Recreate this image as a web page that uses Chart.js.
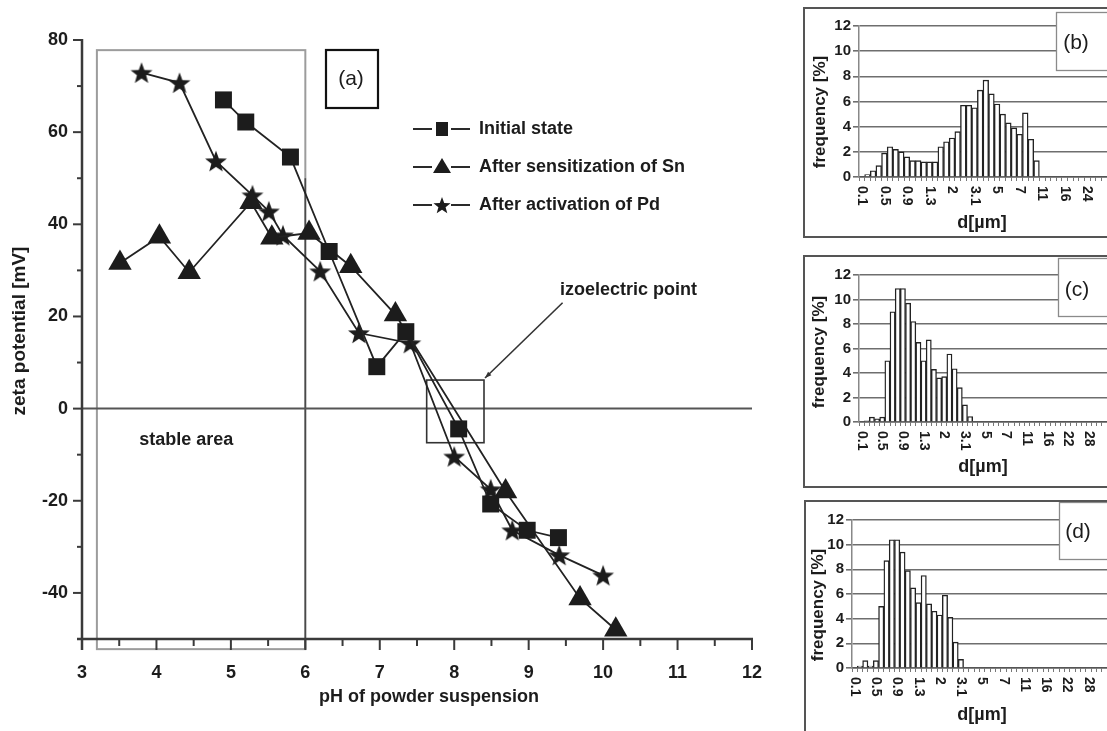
<!DOCTYPE html>
<html><head><meta charset="utf-8">
<script src="https://cdn.jsdelivr.net/npm/chart.js@4.4.1/dist/chart.umd.min.js"></script>
<style>
html,body{margin:0;padding:0;background:#fff;}
body{width:1107px;height:731px;position:relative;overflow:hidden;}
.c{position:absolute;}
.panel{position:absolute;border:2px solid #555;box-sizing:border-box;}
</style></head><body>
<canvas id="main" class="c" style="left:0;top:0;" width="790" height="731"></canvas>
<div class="panel" style="left:803px;top:7px;width:330px;height:231px;"></div>
<div class="panel" style="left:803px;top:255px;width:330px;height:233px;"></div>
<div class="panel" style="left:804px;top:500px;width:330px;height:260px;"></div>
<canvas id="hb" class="c" style="left:805px;top:9px;" width="302" height="228"></canvas>
<canvas id="hc" class="c" style="left:805px;top:257px;" width="302" height="229"></canvas>
<canvas id="hd" class="c" style="left:805px;top:502px;" width="302" height="229"></canvas>
<script>
// ---------- data: main chart (a) ----------
const phInitial   = [4.90, 5.20, 5.80, 6.32, 6.96, 7.35, 8.06, 8.49, 8.98, 9.40];
const zetaInitial = [67.0, 62.2, 54.6, 34.1, 9.1, 16.7, -4.4, -20.7, -26.4, -28.0];
const phSn   = [3.51, 4.04, 4.44, 5.27, 5.55, 6.05, 6.61, 7.21, 8.69, 9.69, 10.17];
const zetaSn = [31.6, 37.3, 29.6, 44.8, 37.1, 38.1, 30.9, 20.4, -18.0, -41.2, -48.0];
const phPd   = [3.80, 4.31, 4.80, 5.29, 5.51, 5.70, 6.20, 6.72, 7.41, 8.00, 8.49, 8.78, 9.41, 10.00];
const zetaPd = [72.9, 70.7, 53.7, 46.3, 42.8, 37.6, 29.8, 16.4, 14.2, -10.4, -17.5, -26.4, -31.8, -36.2];
const seriesNames = ['Initial state', 'After sensitization of Sn', 'After activation of Pd'];
const stablePH = [3.2, 6.0];
const stableZeta = [-52.2, 77.8];
const izoPH = [7.63, 8.40];
const izoZeta = [-7.4, 6.2];

// ---------- data: histograms (b), (c), (d) ----------
const tickLabelsB = ['0.1','0.5','0.9','1.3','2','3.1','5','7','11','16','24'];
const freqB = [0, 0.2,0.5,0.9,1.9,2.4,2.2,2.0,1.6,1.3,1.3,1.2,1.2,1.2,2.4,2.8,3.1,3.6,5.7,5.7,5.5,6.9,7.7,6.6,5.8,5.0,4.3,3.9,3.4,5.1,3.0,1.3];
const tickLabelsC = ['0.1','0.5','0.9','1.3','2','3.1','5','7','11','16','22','28'];
const freqC = [0, 0.1,0.4,0.25,0.4,5.0,9.0,10.9,10.9,9.7,8.2,6.5,5.0,6.7,4.3,3.6,3.7,5.55,4.35,2.8,1.4,0.45];
const tickLabelsD = ['0.1','0.5','0.9','1.3','2','3.1','5','7','11','16','22','28'];
const freqD = [0, 0.15,0.6,0.15,0.6,5.0,8.7,10.4,10.4,9.4,7.9,6.5,5.3,7.5,5.2,4.6,4.3,5.9,4.1,2.1,0.7];

const FONT = '"Liberation Sans", Arial, Helvetica, sans-serif';
const INK = '#1c1c1c';

function starPath(ctx, cx, cy, R) {
  const r = R * 0.42;
  ctx.beginPath();
  for (let i = 0; i < 10; i++) {
    const ang = -Math.PI / 2 + i * Math.PI / 5;
    const rad = i % 2 ? r : R;
    const px = cx + rad * Math.cos(ang), py = cy + rad * Math.sin(ang);
    if (i === 0) ctx.moveTo(px, py); else ctx.lineTo(px, py);
  }
  ctx.closePath();
}
function makeStar(size) {
  const c = document.createElement('canvas');
  c.width = c.height = size;
  const g = c.getContext('2d');
  g.fillStyle = INK;
  const R = size / 2 - 0.5;
  starPath(g, size / 2, size / 2 + R * 0.09, R);
  g.fill();
  return c;
}
const starImg = makeStar(24);

const mainDeco = {
  id: 'mainDeco',
  beforeDatasetsDraw(chart) {
    const { ctx, chartArea: a, scales: { x, y } } = chart;
    const X = v => x.getPixelForValue(v), Y = v => y.getPixelForValue(v);
    ctx.save();
    ctx.strokeStyle = '#9c9c9c'; ctx.lineWidth = 2;
    ctx.strokeRect(X(stablePH[0]), Y(stableZeta[1]), X(stablePH[1]) - X(stablePH[0]), Y(stableZeta[0]) - Y(stableZeta[1]));
    ctx.strokeStyle = '#4a4a4a'; ctx.lineWidth = 1.6;
    ctx.beginPath(); ctx.moveTo(X(stablePH[1]), Y(50)); ctx.lineTo(X(stablePH[1]), Y(stableZeta[0])); ctx.stroke();
    ctx.strokeStyle = '#555'; ctx.lineWidth = 2;
    ctx.beginPath(); ctx.moveTo(a.left, Y(0)); ctx.lineTo(a.right, Y(0)); ctx.stroke();
    ctx.strokeStyle = '#333'; ctx.lineWidth = 1.6;
    ctx.strokeRect(X(izoPH[0]), Y(izoZeta[1]), X(izoPH[1]) - X(izoPH[0]), Y(izoZeta[0]) - Y(izoZeta[1]));
    const x1 = X(9.456), y1 = Y(22.98), x2 = X(izoPH[1]) + 1, y2 = Y(izoZeta[1]) - 2;
    ctx.beginPath(); ctx.moveTo(x1, y1); ctx.lineTo(x2, y2); ctx.stroke();
    const ang = Math.atan2(y2 - y1, x2 - x1);
    ctx.fillStyle = '#333';
    ctx.beginPath();
    ctx.moveTo(x2, y2);
    ctx.lineTo(x2 - 7 * Math.cos(ang - 0.35), y2 - 7 * Math.sin(ang - 0.35));
    ctx.lineTo(x2 - 7 * Math.cos(ang + 0.35), y2 - 7 * Math.sin(ang + 0.35));
    ctx.closePath(); ctx.fill();
    ctx.strokeStyle = '#3a3a3a'; ctx.lineWidth = 2.5;
    ctx.beginPath(); ctx.moveTo(a.left, Y(80) - 1); ctx.lineTo(a.left, a.bottom + 11); ctx.stroke();
    ctx.beginPath(); ctx.moveTo(a.left - 5, a.bottom); ctx.lineTo(a.right + 1, a.bottom); ctx.stroke();
    ctx.lineWidth = 2;
    y.ticks.forEach(t => {
      const major = t.value % 20 === 0;
      const len = major ? 9 : 5, py = Y(t.value);
      ctx.beginPath(); ctx.moveTo(a.left - len, py); ctx.lineTo(a.left, py); ctx.stroke();
    });
    x.ticks.forEach(t => {
      const major = Number.isInteger(t.value);
      const len = major ? 11 : 7, px = X(t.value);
      ctx.beginPath(); ctx.moveTo(px, a.bottom); ctx.lineTo(px, a.bottom + len); ctx.stroke();
    });
    ctx.restore();
  },
  afterDraw(chart) {
    const { ctx, scales: { x, y } } = chart;
    const X = v => x.getPixelForValue(v), Y = v => y.getPixelForValue(v);
    ctx.save();
    ctx.fillStyle = INK;
    ctx.strokeStyle = '#111'; ctx.lineWidth = 2.2;
    ctx.strokeRect(326, 50, 52, 58);
    ctx.font = '21px ' + FONT; ctx.textAlign = 'center'; ctx.textBaseline = 'middle';
    ctx.fillText('(a)', 351, 79);
    const ly = [129, 167, 205];
    ctx.strokeStyle = '#2a2a2a'; ctx.lineWidth = 2;
    ly.forEach((yy, i) => {
      ctx.beginPath(); ctx.moveTo(413, yy); ctx.lineTo(432, yy); ctx.moveTo(451, yy); ctx.lineTo(470, yy); ctx.stroke();
      ctx.fillStyle = INK;
      if (i === 0) ctx.fillRect(436, yy - 7, 12, 14);
      if (i === 1) { ctx.beginPath(); ctx.moveTo(442, yy - 9); ctx.lineTo(451, yy + 6); ctx.lineTo(433, yy + 6); ctx.closePath(); ctx.fill(); }
      if (i === 2) { starPath(ctx, 442, yy + 1, 9); ctx.fill(); }
      ctx.font = 'bold 18px ' + FONT; ctx.textAlign = 'left'; ctx.textBaseline = 'middle';
      ctx.fillText(seriesNames[i], 479, yy);
    });
    ctx.font = 'bold 18px ' + FONT; ctx.textAlign = 'left'; ctx.textBaseline = 'middle';
    ctx.fillText('stable area', X(3.77), Y(-6.8));
    ctx.fillText('izoelectric point', X(9.42), Y(25.8));
    ctx.textAlign = 'center';
    ctx.fillText('pH of powder suspension', 429, 697);
    ctx.save(); ctx.translate(20, 331); ctx.rotate(-Math.PI / 2);
    ctx.font = 'bold 19px ' + FONT; ctx.fillText('zeta potential [mV]', 0, 0); ctx.restore();
    ctx.restore();
  }
};

function xy(xs, ys) { return xs.map((v, i) => ({ x: v, y: ys[i] })); }
const lineCommon = { showLine: true, borderColor: '#222', borderWidth: 1.8, clip: false, pointBorderWidth: 0, pointBackgroundColor: INK, pointBorderColor: INK };

new Chart(document.getElementById('main'), {
  type: 'scatter',
  data: {
    datasets: [
      Object.assign({ label: seriesNames[0], data: xy(phInitial, zetaInitial), pointStyle: 'rect', pointRadius: 12, pointHoverRadius: 12 }, lineCommon),
      Object.assign({ label: seriesNames[1], data: xy(phSn, zetaSn), pointStyle: 'triangle', pointRadius: 13.5, pointHoverRadius: 13.5 }, lineCommon),
      Object.assign({ label: seriesNames[2], data: xy(phPd, zetaPd), pointStyle: starImg, pointRadius: 12 }, lineCommon)
    ]
  },
  options: {
    responsive: false, animation: false,
    layout: { padding: { top: 40, right: 38, left: 0, bottom: 0 } },
    plugins: { legend: { display: false }, tooltip: { enabled: false } },
    scales: {
      x: {
        type: 'linear', min: 3, max: 12,
        ticks: { stepSize: 0.5, autoSkip: false, maxRotation: 0, padding: 23, color: INK,
          font: { family: FONT, size: 18, weight: 'bold' },
          callback: v => Number.isInteger(v) ? String(v) : '' },
        grid: { display: false, drawTicks: false }, border: { display: false },
        afterFit: s => { s.height = 92; }
      },
      y: {
        type: 'linear', min: -50, max: 80,
        ticks: { stepSize: 10, padding: 14, color: INK,
          font: { family: FONT, size: 18, weight: 'bold' },
          callback: v => v % 20 === 0 ? String(v) : '' },
        grid: { display: false, drawTicks: false }, border: { display: false },
        afterFit: s => { s.width = 82; }
      }
    }
  },
  plugins: [mainDeco]
});

function histChart(id, tickLabels, nCats, freq, g) {
  const labels = [];
  for (let i = 0; i < nCats; i++) labels.push(i % 4 === 0 && tickLabels[i / 4] !== undefined ? tickLabels[i / 4] : '');
  const values = labels.map((_, i) => i < freq.length ? freq[i] : null);
  const deco = {
    id: 'deco' + id,
    afterDraw(chart) {
      const { ctx, chartArea: a, scales: { x } } = chart;
      ctx.save();
      ctx.fillStyle = INK;
      ctx.font = 'bold 14px ' + FONT; ctx.textAlign = 'left'; ctx.textBaseline = 'middle';
      chart.data.labels.forEach((lab, i) => {
        if (!lab) return;
        ctx.save(); ctx.translate(x.getPixelForValue(i), a.bottom + 9); ctx.rotate(Math.PI / 2);
        ctx.fillText(lab, 0, 0); ctx.restore();
      });
      ctx.save(); ctx.translate(g.ytx, g.yty); ctx.rotate(-Math.PI / 2);
      ctx.font = 'bold 17px ' + FONT; ctx.textAlign = 'center'; ctx.fillText('frequency [%]', 0, 0); ctx.restore();
      ctx.font = 'bold 18px ' + FONT; ctx.textAlign = 'center';
      ctx.fillText('d[µm]', g.xtx, g.xty);
      ctx.fillStyle = '#fff'; ctx.fillRect(g.bx, g.by, chart.width - g.bx + 2, g.bh);
      ctx.strokeStyle = '#8a8a8a'; ctx.lineWidth = 1.3;
      ctx.strokeRect(g.bx + 0.5, g.by + 0.5, chart.width - g.bx + 6, g.bh);
      ctx.fillStyle = INK; ctx.font = '21px ' + FONT;
      ctx.fillText(g.tag, g.tx, g.ty);
      ctx.restore();
    }
  };
  new Chart(document.getElementById(id), {
    type: 'bar',
    data: { labels, datasets: [{ data: values, backgroundColor: '#fff', borderColor: '#222', borderWidth: 1.4, barPercentage: 1, categoryPercentage: 1 }] },
    options: {
      responsive: false, animation: false,
      layout: { padding: { top: g.top, right: 0, left: 0, bottom: 0 } },
      plugins: { legend: { display: false }, tooltip: { enabled: false } },
      scales: {
        x: {
          ticks: { display: false },
          grid: { drawOnChartArea: false, drawTicks: true, tickLength: 4, color: '#777', lineWidth: 1 },
          border: { color: '#555', width: 1.6 },
          afterFit: s => { s.height = g.xh; }
        },
        y: {
          min: 0, max: 12,
          ticks: { stepSize: 2, padding: 2, color: INK, font: { family: FONT, size: 15, weight: 'bold' } },
          grid: { color: '#6e6e6e', lineWidth: 1.6, tickLength: 6 },
          border: { color: '#888', width: 1.5 },
          afterFit: s => { s.width = g.left; }
        }
      }
    },
    plugins: [deco]
  });
}

histChart('hb', tickLabelsB, 44, freqB, { top: 17, xh: 60, left: 54, ytx: 15, yty: 103, xtx: 177, xty: 214, bx: 251, by: 3, bh: 58, tx: 271, ty: 34, tag: '(b)' });
histChart('hc', tickLabelsC, 48, freqC, { top: 18, xh: 64, left: 54, ytx: 14, yty: 95, xtx: 178, xty: 210, bx: 253, by: 1, bh: 58, tx: 272, ty: 33, tag: '(c)' });
histChart('hd', tickLabelsD, 48, freqD, { top: 18, xh: 63, left: 47, ytx: 13, yty: 103, xtx: 177, xty: 213, bx: 254, by: 0, bh: 57, tx: 273, ty: 30, tag: '(d)' });
</script>
</body></html>
